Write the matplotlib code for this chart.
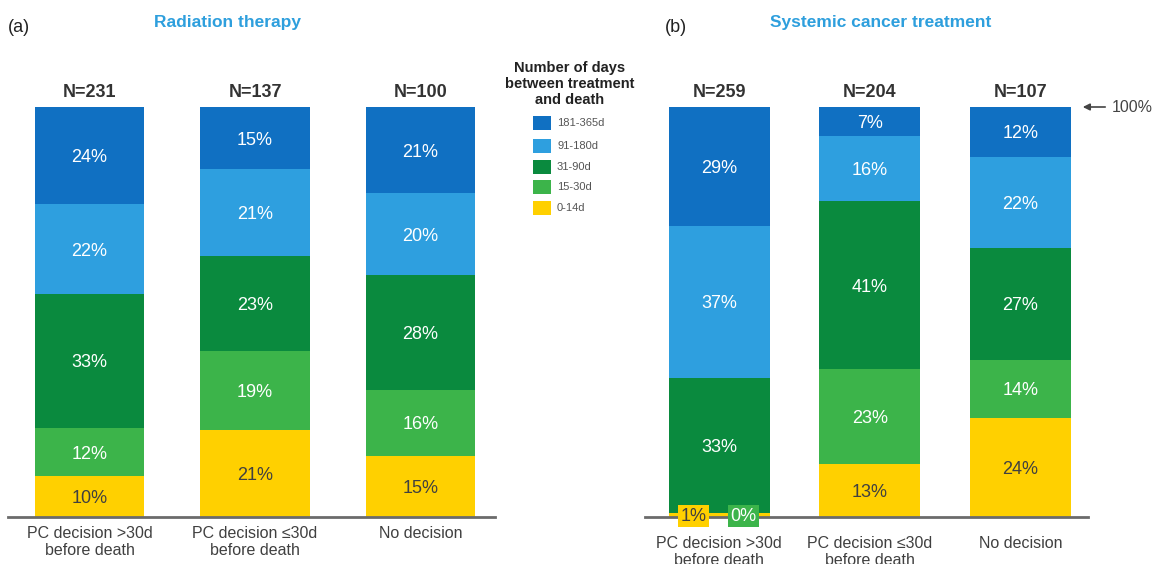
import matplotlib.pyplot as plt
from matplotlib.patches import Rectangle

plt.rcParams['font.family'] = ['Liberation Sans', 'DejaVu Sans']

# Data (bottom to top)
groups = ["0-14d", "15-30d", "31-90d", "91-180d", "181-365d"]
colors = ["#FFD000", "#3CB44A", "#0A8A3E", "#2E9FDF", "#1070C2"]
categories = ["PC decision >30d\nbefore death", "PC decision \u226430d\nbefore death", "No decision"]

rt_n = [231, 137, 100]
rt_vals = [
    [10, 12, 33, 22, 24],
    [21, 19, 23, 21, 15],
    [15, 16, 28, 20, 21],
]
sys_n = [259, 204, 107]
sys_vals = [
    [1, 0, 33, 37, 29],
    [13, 23, 41, 16, 7],
    [24, 14, 27, 22, 12],
]

W, H = 1155, 564
fig = plt.figure(figsize=(W / 100, H / 100), dpi=100)

def fx(px):
    return px / W

def fy(py):
    return 1 - py / H

text_dark = "#404040"


def draw_panel(ax, ns, vals, width, label_y):
    for i, (n, v) in enumerate(zip(ns, vals)):
        total = sum(v)
        bottom = 0
        for j, val in enumerate(v):
            h = val * 100 / total
            ax.bar(i, h, width, bottom=bottom, color=colors[j], linewidth=0)
            if val > 0 and h > 3:
                tc = text_dark if j == 0 else "white"
                ax.text(i, bottom + h / 2, f"{val}%", ha="center", va="center_baseline",
                        fontsize=13, color=tc)
            bottom += h
        ax.text(i, 103.5, f"N={n}", ha="center", va="center", fontsize=13,
                fontweight="bold", color="#333333")
        ax.text(i, label_y, categories[i], ha="center", va="top", fontsize=11.5,
                color=text_dark, linespacing=1.15, clip_on=False)
    ax.set_ylim(0, 100)
    ax.set_xlim(-0.493, 2.45)
    for s in ["top", "right", "left"]:
        ax.spines[s].set_visible(False)
    ax.spines["bottom"].set_color("#6b6b6b")
    ax.spines["bottom"].set_linewidth(2)
    ax.set_xticks([])
    ax.set_yticks([])
    ax.patch.set_alpha(0)


ax_a = fig.add_axes([fx(8), fy(517), fx(495) - fx(8), fy(107) - fy(517)])
draw_panel(ax_a, rt_n, rt_vals, 0.66, -2.2)

ax_b = fig.add_axes([fx(645), fy(517), fx(1088) - fx(645), fy(107) - fy(517)])
draw_panel(ax_b, sys_n, sys_vals, 0.67, -4.6)

# small labels for the tiny segments in panel (b)
for xv, txt, fc, tc in [(-0.17, "1%", colors[0], text_dark), (0.16, "0%", colors[1], "white")]:
    ax_b.text(xv, 0.2, txt, ha="center", va="center", fontsize=13, color=tc, zorder=5,
              bbox=dict(boxstyle="square,pad=0.15", fc=fc, ec="none"))

# panel titles
fig.text(fx(8), fy(27), "(a)", ha="left", va="center", fontsize=13, color="#222222")
fig.text(fx(665), fy(27), "(b)", ha="left", va="center", fontsize=13, color="#222222")
fig.text(fx(227), fy(22), "Radiation therapy", ha="center", va="center", fontsize=12.5,
         fontweight="bold", color="#2E9FDD")
fig.text(fx(881), fy(22), "Systemic cancer treatment", ha="center", va="center", fontsize=12.5,
         fontweight="bold", color="#2E9FDD")

# legend
fig.text(fx(570), fy(84), "Number of days\nbetween treatment\nand death", ha="center",
         va="center", fontsize=10.5, fontweight="bold", color="#222222", linespacing=1.2)
entry_y = [208, 187, 167, 146, 123]
for j, g in enumerate(groups):
    y = entry_y[j]
    fig.add_artist(Rectangle((fx(533), fy(y + 7)), fx(18), fy(y - 7) - fy(y + 7),
                             transform=fig.transFigure, color=colors[j], lw=0))
    fig.text(fx(557), fy(y), g, ha="left", va="center", fontsize=8, color="#555555")

# 100% marker
ax_b.annotate("", xy=(fx(1080), fy(107)), xytext=(fx(1108), fy(107)),
              xycoords="figure fraction", textcoords="figure fraction",
              arrowprops=dict(arrowstyle="-|>", color="#444444", lw=1.2, mutation_scale=10))
fig.text(fx(1112), fy(107), "100%", ha="left", va="center", fontsize=11.5, color="#444444")

fig.savefig("out.png", dpi=100)
